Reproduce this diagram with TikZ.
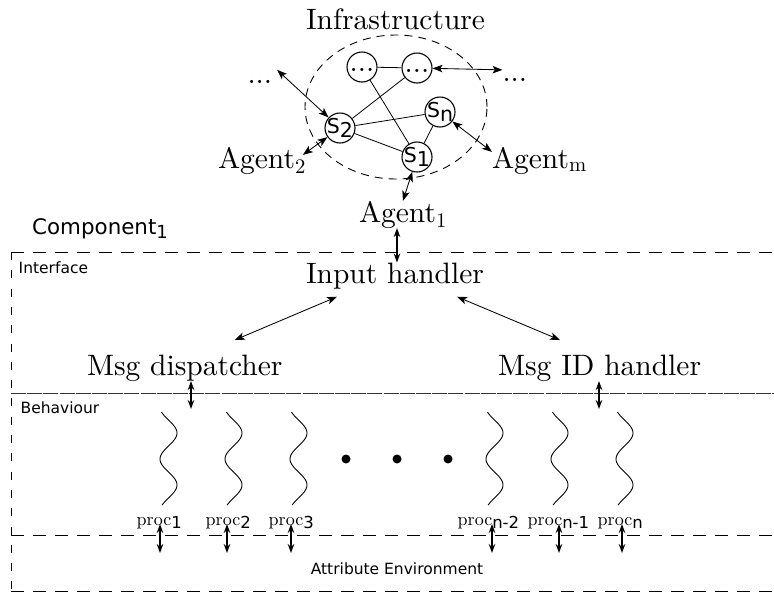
\documentclass[tikz,border=0pt]{standalone}
\usepackage{fontspec}
\setmainfont{lmroman10-regular.otf}
\newfontfamily\dv{DejaVu Sans}
\usetikzlibrary{arrows.meta,calc,shapes.geometric}
\newcommand\proclab[1]{{\fontsize{18}{20}\selectfont proc}{\dv\fontsize{16.5}{18}\selectfont\raisebox{-3pt}{#1}}}
\newcommand\stlab[1]{S\raisebox{-4pt}{#1}}
\begin{document}
\begin{tikzpicture}[x=1pt,y=-1pt,
  bigtext/.style={font=\fontsize{29.5}{34}\selectfont, inner sep=0pt, outer sep=0pt},
  sanslabel/.style={font=\dv\fontsize{15.5}{18}\selectfont, inner sep=0pt},
  station/.style={draw, circle, line width=1.1pt, minimum size=30pt, inner sep=-3pt, font=\dv\fontsize{20.5}{22}\selectfont},
  farstation/.style={station, inner sep=0pt, font=\fontsize{29.5}{34}\selectfont, text height=9pt, text depth=0pt},
  link/.style={line width=0.8pt},
  biarrow/.style={{Stealth[length=10pt,width=7.5pt,inset=2.5pt]}-{Stealth[length=10pt,width=7.5pt,inset=2.5pt]}, line width=0.85pt},
  thickarrow/.style={{Stealth[length=9pt,width=6.5pt]}-{Stealth[length=9pt,width=6.5pt]}, line width=1.6pt},
  hdash/.style={line width=0.9pt, dash pattern=on 13pt off 9pt},
  vdash/.style={line width=0.9pt, dash pattern=on 8pt off 10.3pt},
  sepline/.style={line width=0.9pt, black!80, dash pattern=on 15pt off 1.2pt},
  wave/.style={line width=0.9pt},
  dotmark/.style={circle, fill, minimum size=9pt, inner sep=0pt}
]
\useasboundingbox (0,0) rectangle (774,595);

% ---------- Infrastructure ----------
\node[bigtext, anchor=base west] (infra) at (306,29) {Infrastructure};
\node[draw, ellipse, line width=0.9pt, dash pattern=on 8pt off 6pt,
      minimum width=182pt, minimum height=144pt, inner sep=0pt] (cloud) at (396,107) {};

\node[farstation] (c1) at (362,67) {...};
\node[farstation] (c2) at (417,68) {...};
\node[station] (Sn) at (440,112) {\stlab{n}};
\node[station] (S2) at (340,128) {\stlab{2}};
\node[station] (S1) at (417,157) {\stlab{1}};

\draw[link] (c1) -- (c2);
\draw[link] (c1) -- (S1);
\draw[link] (c2) -- (S2);
\draw[link] (S2) -- (Sn);
\draw[link] (S2) -- (S1);
\draw[link] (Sn) -- (S1);

\node[bigtext, anchor=base west] (ld) at (247.5,83) {...};
\node[bigtext, anchor=base west] (rd) at (502.5,81) {...};

\node[bigtext, anchor=base west] (A2) at (218,168) {Agent\textsubscript{2}};
\node[bigtext, anchor=base west] (Am) at (492,168) {Agent\textsubscript{m}};
\node[bigtext, anchor=base west] (A1) at (359,222) {Agent\textsubscript{1}};

\draw[biarrow] ($(ld.north east)+(5,-10)$) -- (S2);
\draw[biarrow] (c2) -- ($(rd.north west)+(0,-8)$);
\draw[biarrow] (Sn) -- ($(Am.north west)+(0,5)$);
\draw[biarrow] (S2) -- ($(A2.north east)+(-3,8)$);
\draw[biarrow] (S1) -- (A1.north);

% ---------- Component ----------
\node[anchor=base west, inner sep=0pt] (comp) at (32,234)
  {\dv\fontsize{21.4}{24}\selectfont Component\raisebox{-4pt}{\fontsize{18}{20}\selectfont 1}};

\draw[hdash] (11,252) -- (780,252);
\draw[vdash] (11,252) -- (11,591);
\draw[hdash] (11,591) -- (780,591);
\draw[sepline] (11,393) -- (780,393);
\draw[hdash] (11,535) -- (780,535);

\node[sanslabel, anchor=base west] (iface) at (18.5,273) {Interface};
\node[sanslabel, anchor=base west] (behav) at (20.5,413) {Behaviour};
\node[sanslabel, anchor=base] (attr) at (397,574) {Attribute Environment};

\node[bigtext, anchor=base west] (In) at (306,283) {Input handler};
\node[bigtext, anchor=base west] (Disp) at (87,375) {Msg dispatcher};
\node[bigtext, anchor=base west] (Id) at (498,375) {Msg ID handler};

\draw[thickarrow] ($(A1.south -| In.north)+(2,0)$) -- ($(In.north)+(2,0)$);
\draw[biarrow] ($(In.south west)+(31,8)$) -- ($(Disp.north)+(50,-14.5)$);
\draw[biarrow] ($(In.south east)+(-27,8)$) -- ($(Id.north)+(-39.5,-14.5)$);

\coordinate (dispEnd) at (191,409);
\coordinate (idEnd) at (599,409);
\draw[thickarrow] (dispEnd |- Disp.south) -- (dispEnd);
\draw[thickarrow] (idEnd |- Id.south) -- (idEnd);

% ---------- Behaviour ----------
\foreach \c in {168.5,233.5,298.5,494.5,559.5,624.5}
  \draw[wave] plot[domain=412:505, samples=60, smooth] ({\c+8.5*cos((\x-433)/52*360)}, \x);

\node[dotmark] (d1) at (346,459) {};
\node[dotmark] (d2) at (397,459) {};
\node[dotmark] (d3) at (448,459) {};

\node[anchor=base west, inner sep=0pt] (p1) at (136.5,525) {\proclab{1}};
\node[anchor=base west, inner sep=0pt] (p2) at (205.5,525) {\proclab{2}};
\node[anchor=base west, inner sep=0pt] (p3) at (268.5,525) {\proclab{3}};
\node[anchor=base west, inner sep=0pt] (pn2) at (457.5,525) {\proclab{n-2}};
\node[anchor=base west, inner sep=0pt] (pn1) at (527.5,525) {\proclab{n-1}};
\node[anchor=base west, inner sep=0pt] (pn) at (597.5,525) {\proclab{n}};

\foreach \n/\px in {a/160,b/227,c/291,d/492,e/559,f/622} {
  \coordinate (t\n) at (\px,524);
  \coordinate (b\n) at (\px,553);
  \draw[thickarrow] (t\n) -- (b\n);
}
\end{tikzpicture}
\end{document}
